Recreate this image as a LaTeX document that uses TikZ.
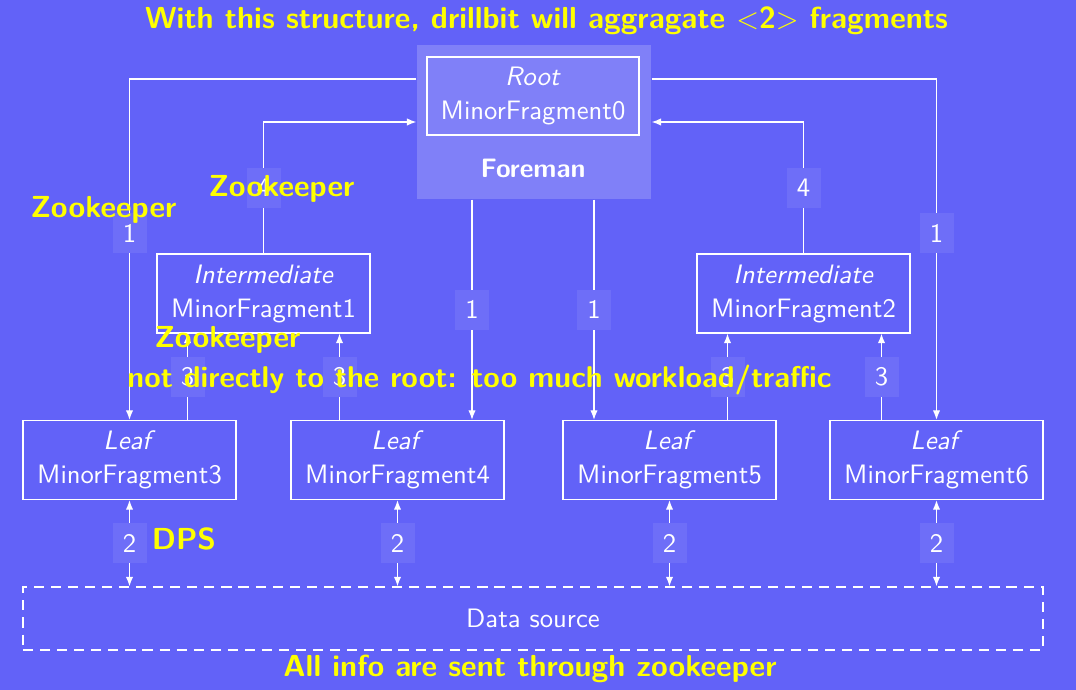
\documentclass[tikz,border=0pt]{standalone}
\usetikzlibrary{arrows.meta,calc}
\definecolor{bg}{RGB}{98,98,248}
\definecolor{fore}{RGB}{128,128,248}
\definecolor{lab}{RGB}{110,110,248}
\definecolor{ylw}{RGB}{255,255,0}
\begin{document}
\begin{tikzpicture}[x=0.375pt,y=-0.375pt,
  every node/.style={font=\sffamily\fontsize{10}{12.75}\selectfont, text=white},
  frag/.style={draw=white, line width=0.5pt, align=center, minimum width=79.9pt, minimum height=29.6pt, inner sep=0pt},
  conn/.style={draw=white, line width=0.5pt},
  arr/.style={conn, -{Latex[length=3.6pt,width=2.8pt]}},
  darr/.style={conn, {Latex[length=3.6pt,width=2.8pt]}-{Latex[length=3.6pt,width=2.8pt]}},
  lbl/.style={fill=lab, minimum width=12.75pt, minimum height=15pt, inner sep=0pt},
  note/.style={text=ylw, font=\sffamily\bfseries\fontsize{11.4}{13}\selectfont, anchor=base, inner sep=0pt},
]
\fill[bg] (0,0) rectangle (1076,690);
\useasboundingbox (0,0) rectangle (1076,690);

% Foreman and root
\node[fill=fore, minimum width=87.75pt, minimum height=57.75pt, inner sep=0pt] (foreman) at (534,122) {};
\node[frag, minimum width=79.5pt, minimum height=29.25pt] (root) at (533,96) {\textit{Root}\\MinorFragment0};
\node[font=\sffamily\bfseries\fontsize{10}{12}\selectfont] (foremanlbl) at (533,168) {Foreman};

% Intermediate
\node[frag] (int1) at (263.5,293.5) {\textit{Intermediate}\\MinorFragment1};
\node[frag] (int2) at (803.5,293.5) {\textit{Intermediate}\\MinorFragment2};

% Leaves
\node[frag] (leaf3) at (129.5,460) {\textit{Leaf}\\MinorFragment3};
\node[frag] (leaf4) at (397.5,460) {\textit{Leaf}\\MinorFragment4};
\node[frag] (leaf5) at (669.5,460) {\textit{Leaf}\\MinorFragment5};
\node[frag] (leaf6) at (936.5,460) {\textit{Leaf}\\MinorFragment6};

% Data source
\node[draw=white, line width=0.5pt, dash pattern=on 3.8pt off 2.6pt, minimum width=382.5pt, minimum height=23.6pt, inner sep=0pt] (data) at (533,618.5) {Data source};

% tap coordinates
\coordinate (c4) at (472,0);
\coordinate (c5) at (594,0);
\coordinate (t31) at ($(int1.south)+(-76,0)$);
\coordinate (t41) at ($(int1.south)+(76,0)$);
\coordinate (t52) at ($(int2.south)+(-76,0)$);
\coordinate (t62) at ($(int2.south)+(78,0)$);

% 1: root to leaves
\draw[arr] ($(foreman.west)+(0,-43)$) -| node[lbl, pos=0.726]{1} (leaf3.north);
\draw[arr] ($(foreman.east)+(0,-43)$) -| node[lbl, pos=0.726]{1} (leaf6.north);
\draw[arr] (foreman.south -| c4) -- node[lbl]{1} (leaf4.north -| c4);
\draw[arr] (foreman.south -| c5) -- node[lbl]{1} (leaf5.north -| c5);

% 2: leaves <-> data source
\draw[darr] (leaf3.south) -- node[lbl]{2} (data.north -| leaf3.south);
\draw[darr] (leaf4.south) -- node[lbl]{2} (data.north -| leaf4.south);
\draw[darr] (leaf5.south) -- node[lbl]{2} (data.north -| leaf5.south);
\draw[darr] (leaf6.south) -- node[lbl]{2} (data.north -| leaf6.south);

% 3: leaves to intermediates
\draw[arr] (t31 |- leaf3.north) -- node[lbl]{3} (t31);
\draw[arr] (t41 |- leaf4.north) -- node[lbl]{3} (t41);
\draw[arr] (t52 |- leaf5.north) -- node[lbl]{3} (t52);
\draw[arr] (t62 |- leaf6.north) -- node[lbl]{3} (t62);

% 4: intermediates to root
\draw[arr] (int1.north) |- node[lbl, pos=0.25]{4} (foreman.west);
\draw[arr] (int2.north) |- node[lbl, pos=0.25]{4} (foreman.east);

% Yellow notes
\node[note] (title) at (546.5,29) {With this structure, drillbit will aggragate $<$2$>$ fragments};
\node[note] (zk1) at (103.5,218) {Zookeeper};
\node[note] (zk2) at (281.5,197) {Zookeeper};
\node[note] (zk3) at (227.5,348) {Zookeeper};
\node[note, font=\sffamily\bfseries\fontsize{11.25}{13}\selectfont] (notdirect) at (479.5,388) {not directly to the root: too much workload/traffic};
\node[note] (dps) at (184,549) {DPS};
\node[note] (allinfo) at (530,676) {All info are sent through zookeeper};
\end{tikzpicture}
\end{document}
